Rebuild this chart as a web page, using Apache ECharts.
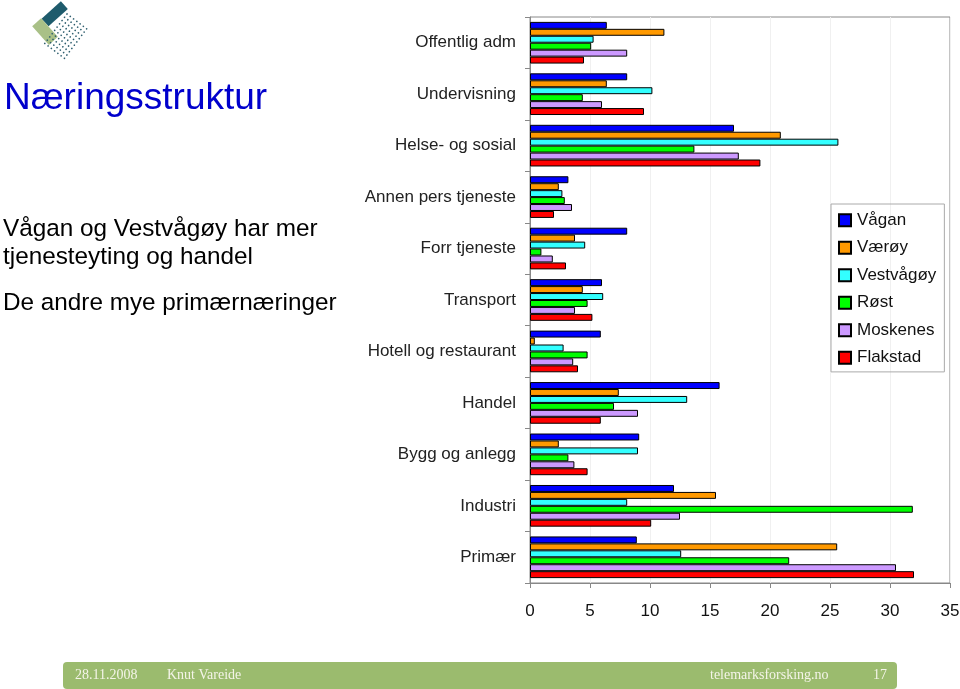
<!DOCTYPE html>
<html>
<head>
<meta charset="utf-8">
<script src="https://cdn.jsdelivr.net/npm/echarts@6/dist/echarts.min.js"></script>
<style>
html,body{margin:0;padding:0;background:#fff;overflow:hidden;}
#chart{width:960px;height:689px;}
</style>
</head>
<body>
<div id="chart"></div>
<script>
const categories = ['Offentlig adm','Undervisning','Helse- og sosial','Annen pers tjeneste','Forr tjeneste','Transport','Hotell og restaurant','Handel','Bygg og anlegg','Industri','Primær'];
const seriesNames = ['Vågan','Værøy','Vestvågøy','Røst','Moskenes','Flakstad'];
const vagan     = [6.4, 8.1, 17.0, 3.2, 8.1, 6.0, 5.9, 15.8, 9.1, 12.0, 8.9];
const veroy     = [11.2, 6.4, 20.9, 2.4, 3.75, 4.4, 0.4, 7.4, 2.4, 15.5, 25.6];
const vestvagoy = [5.3, 10.2, 25.7, 2.7, 4.6, 6.1, 2.8, 13.1, 9.0, 8.1, 12.6];
const rost      = [5.1, 4.4, 13.7, 2.9, 0.95, 4.8, 4.8, 7.0, 3.2, 31.9, 21.6];
const moskenes  = [8.1, 6.0, 17.4, 3.5, 1.9, 3.75, 3.6, 9.0, 3.7, 12.5, 30.5];
const flakstad  = [4.5, 9.5, 19.2, 2.0, 3.0, 5.2, 4.0, 5.9, 4.8, 10.1, 32.0];
const xTicks = [0, 5, 10, 15, 20, 25, 30, 35];

const colors = ['#0000ff','#ff9900','#33ffff','#00ff00','#cc99ff','#ff0000'];
const values = [vagan, veroy, vestvagoy, rost, moskenes, flakstad];

const chart = echarts.init(document.getElementById('chart'), null, {renderer:'canvas'});

// logo dots (decoration)
const dots = [];
for (let i = 0; i < 7; i++) {
  for (let j = 0; j < 10; j++) {
    dots.push({type:'circle', shape:{cx: i*4.1, cy: j*4.1, r:0.85}, style:{fill:'#2f5f6f'}});
  }
}

const series = seriesNames.map((n, k) => ({
  name: n,
  type: 'bar',
  data: values[k],
  barGap: '0%',
  barCategoryGap: '19%',
  itemStyle: {color: colors[k], borderColor: '#000', borderWidth: 1},
  emphasis: {disabled: true},
  animation: false
}));

const sans = 'Liberation Sans, Arial, sans-serif';
const serif = 'Liberation Serif, serif';

chart.setOption({
  animation: false,
  textStyle: {fontFamily: sans},
  grid: {left: 530, right: 10, top: 17, bottom: 106, show: true, borderColor: '#888', borderWidth: 1,
    containLabel: false, outerBoundsMode: 'none'},
  xAxis: {
    type: 'value', min: 0, max: 35, interval: 5,
    axisLine: {show: true, lineStyle: {color: '#888'}},
    axisTick: {show: true, length: 5, lineStyle: {color: '#888'}},
    splitLine: {show: true, lineStyle: {color: '#f0f0f0'}},
    axisLabel: {fontSize: 17, color: '#111', margin: 20,
      formatter: v => xTicks.includes(v) ? String(v) : ''}
  },
  yAxis: {
    type: 'category', data: categories, inverse: true,
    axisLine: {show: true, lineStyle: {color: '#888'}},
    axisTick: {show: true, length: 5, lineStyle: {color: '#888'}},
    axisLabel: {fontSize: 17, color: '#222', margin: 14}
  },
  legend: {
    orient: 'vertical', left: 831, top: 204,
    data: seriesNames,
    itemWidth: 12, itemHeight: 12, itemGap: 9.1,
    icon: 'rect',
    padding: [7, 8, 5, 7],
    borderColor: '#aaa', borderWidth: 1,
    textStyle: {fontSize: 17, color: '#111', lineHeight: 18.4, padding: [0,0,0,1]},
    selectedMode: false
  },
  series: series,
  graphic: [
    {type:'group', x: 54.7, y: 13.8, rotation: 42*Math.PI/180, children:[
      {type:'rect', shape:{x:-13, y:-5.2, width:26, height:10.4}, style:{fill:'#1e5b6c'}}
    ]},
    {type:'group', x: 45, y: 31.6, rotation: -48*Math.PI/180, children:[
      {type:'rect', shape:{x:-12.5, y:-6, width:25, height:12}, style:{fill:'#a9c087'}}
    ]},
    {type:'group', x: 67, y: 14, rotation: -37*Math.PI/180, children: dots},
    {type:'text', left: 4, top: 80, style:{text:'Næringsstruktur', fontSize: 37, fill:'#0000cc', fontFamily: sans}},
    {type:'text', left: 3, top: 217, style:{text:'Vågan og Vestvågøy har mer', fontSize: 24.3, fill:'#000', fontFamily: sans}},
    {type:'text', left: 3, top: 245, style:{text:'tjenesteyting og handel', fontSize: 24.3, fill:'#000', fontFamily: sans}},
    {type:'text', left: 3, top: 291, style:{text:'De andre mye primærnæringer', fontSize: 24.3, fill:'#000', fontFamily: sans}},
    {type:'rect', shape:{x:63, y:662, width:834, height:27, r:4}, style:{fill:'#9bbb6e'}},
    {type:'text', x: 75, y: 675, style:{text:'28.11.2008', fontSize: 14, fill:'#f4f4e8', fontFamily: serif, verticalAlign:'middle'}},
    {type:'text', x: 167, y: 675, style:{text:'Knut Vareide', fontSize: 14, fill:'#f4f4e8', fontFamily: serif, verticalAlign:'middle'}},
    {type:'text', x: 710, y: 675, style:{text:'telemarksforsking.no', fontSize: 14, fill:'#f4f4e8', fontFamily: serif, verticalAlign:'middle'}},
    {type:'text', x: 873, y: 675, style:{text:'17', fontSize: 14, fill:'#f4f4e8', fontFamily: serif, verticalAlign:'middle'}}
  ]
});
</script>
</body>
</html>
